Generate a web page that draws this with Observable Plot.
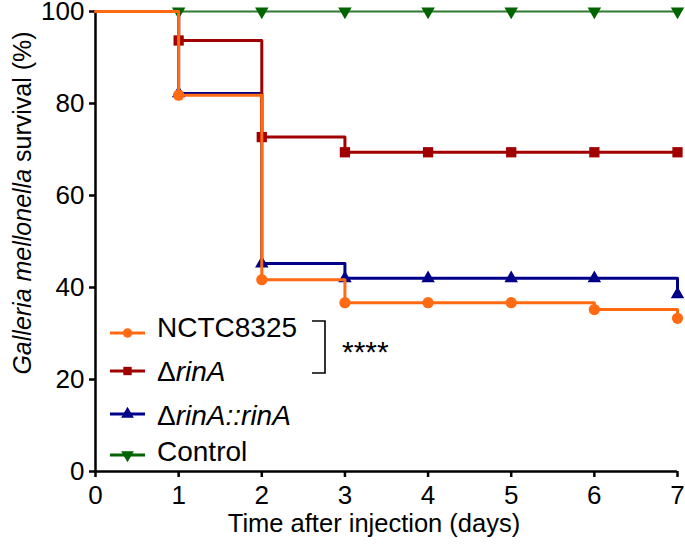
<!DOCTYPE html>
<html><head><meta charset="utf-8">
<script src="https://cdn.jsdelivr.net/npm/d3@7"></script>
<script src="https://cdn.jsdelivr.net/npm/@observablehq/plot@0.6"></script>
<style>
body{margin:0;background:#fff}
#chart{position:relative;width:685px;height:551px}
svg{overflow:visible}
</style>
</head><body><div id="chart"></div>
<script>
// ---- data ----
const days = [0, 1, 2, 3, 4, 5, 6, 7];
const nctc8325 = [100, 81.8, 41.7, 36.7, 36.7, 36.7, 35.2, 33.3];
const deltaRinA = [100, 93.7, 72.7, 69.4, 69.4, 69.4, 69.4, 69.4];
const complemented = [100, 82.2, 45.2, 42.0, 42.0, 42.0, 42.0, 38.5];
const control = [100, 100, 100, 100, 100, 100, 100, 100];
const seriesNames = ["NCTC8325", "ΔrinA", "ΔrinA::rinA", "Control"];
const yTicks = [0, 20, 40, 60, 80, 100];
const xTicks = [0, 1, 2, 3, 4, 5, 6, 7];
const significance = "****";

// ---- styling ----
const colors = {"NCTC8325": "#ff6a13", "ΔrinA": "#a00000", "ΔrinA::rinA": "#000088", "Control": "#006400"};
const lineColors = {"NCTC8325": "#ff6a13", "ΔrinA": "#a00000", "ΔrinA::rinA": "#000088", "Control": "#2f7a2f"};
const symbols = {"NCTC8325": "circle", "ΔrinA": "square", "ΔrinA::rinA": "triangle", "Control": "triangle"};
const rotations = {"NCTC8325": 0, "ΔrinA": 0, "ΔrinA::rinA": 0, "Control": 180};
const sizes = {"NCTC8325": 5.6, "ΔrinA": 5.8, "ΔrinA::rinA": 5, "Control": 5};
const widths = {"NCTC8325": 3, "ΔrinA": 3, "ΔrinA::rinA": 3, "Control": 2.2};

const valuesBySeries = {
  "NCTC8325": nctc8325, "ΔrinA": deltaRinA, "ΔrinA::rinA": complemented, "Control": control
};
const rows = [];
for (const s of seriesNames) {
  valuesBySeries[s].forEach((v, i) => rows.push({series: s, day: days[i], value: v}));
}

const drawOrder = ["Control", "ΔrinA::rinA", "ΔrinA", "NCTC8325"];
const marks = [];
for (const s of drawOrder) {
  const d = rows.filter(r => r.series === s);
  marks.push(Plot.line(d, {x: "day", y: "value", stroke: lineColors[s], strokeWidth: widths[s], curve: "step-after"}));
  marks.push(Plot.dot(d.filter(r => r.day > 0), {x: "day", y: "value", fill: colors[s], stroke: "none", symbol: symbols[s], r: sizes[s], rotate: rotations[s]}));
}

const font = "'Liberation Sans', Arial, sans-serif";
const plot = Plot.plot({
  width: 685, height: 551,
  marginLeft: 95, marginRight: 8, marginTop: 11, marginBottom: 80,
  style: {fontFamily: font, color: "#000", background: "#fff", fontSize: "25px"},
  x: {domain: [0, 7]},
  y: {domain: [0, 100]},
  marks: [
    Plot.axisY({ticks: yTicks, tickFormat: d3.format("d"), tickSize: 6, tickPadding: 5, fontSize: 25, strokeWidth: 2.5, label: null}),
    Plot.axisX({ticks: xTicks, tickFormat: d3.format("d"), tickSize: 6, tickPadding: 8, fontSize: 25, strokeWidth: 2.5, label: null}),
    Plot.ruleX([0], {strokeWidth: 2.5}),
    Plot.ruleY([0], {strokeWidth: 2.5}),
    ...marks
  ]
});
document.getElementById("chart").appendChild(plot);

const svg = d3.select(plot);
// enlarge tick labels (only Plot's own texts exist at this point)
svg.selectAll("text").style("font-size", "26px");

// y axis title with italic species name
const yt = svg.append("text")
  .attr("transform", "translate(31,203) rotate(-90)")
  .attr("text-anchor", "middle")
  .style("font-family", font).style("font-size", "25px").attr("fill", "#000");
yt.append("tspan").style("font-style", "italic").text("Galleria mellonella");
yt.append("tspan").text(" survival (%)");

// x axis title
svg.append("text")
  .attr("x", 374).attr("y", 532)
  .attr("text-anchor", "middle")
  .style("font-family", font).style("font-size", "25.5px").attr("fill", "#000")
  .text("Time after injection (days)");

// legend
const legLineY = [333, 371, 414, 455];
const legTextY = [337, 381, 425, 461];
const symbolMap = {circle: d3.symbolCircle, square: d3.symbolSquare, triangle: d3.symbolTriangle};
seriesNames.forEach((s, i) => {
  const g = svg.append("g");
  g.append("line").attr("x1", 110).attr("x2", 145).attr("y1", legLineY[i]).attr("y2", legLineY[i])
    .attr("stroke", s === "Control" ? colors[s] : lineColors[s]).attr("stroke-width", 3);
  g.append("path").attr("d", d3.symbol(symbolMap[symbols[s]], 70)())
    .attr("transform", `translate(127.5,${legLineY[i]}) rotate(${rotations[s]})`)
    .attr("fill", colors[s]);
  const t = g.append("text").attr("x", 157).attr("y", legTextY[i])
    .attr("text-anchor", "start")
    .style("font-family", font).style("font-size", "28px").attr("fill", "#000");
  if (s.startsWith("Δ")) {
    t.append("tspan").text("Δ");
    t.append("tspan").style("font-style", "italic").text(s.slice(1));
  } else {
    t.text(s);
  }
});
// significance bracket
svg.append("path").attr("d", "M312,321H325V373H312").attr("fill", "none").attr("stroke", "#000").attr("stroke-width", 1.6);
svg.append("text").attr("x", 342).attr("y", 362).attr("text-anchor", "start")
  .style("font-family", font).style("font-size", "30px").attr("fill", "#000")
  .text(significance);
</script>
</body></html>
